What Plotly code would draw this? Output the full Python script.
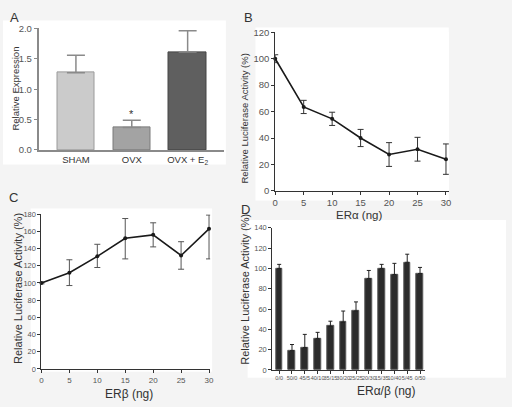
import plotly.graph_objects as go

W, H = 512, 407
FONT = "Liberation Sans, Arial, sans-serif"

# ---- data ----
a_cats = ["SHAM", "OVX", "OVX + E<sub>2</sub>"]
a_vals = [1.27, 0.37, 1.61]
a_err = [0.29, 0.12, 0.35]

b_x = [0, 5, 10, 15, 20, 25, 30]
b_vals = [100, 63.5, 54.5, 40, 27.5, 31.5, 24]
b_err = [3, 5, 5, 6.5, 9, 9, 11.5]

c_x = [0, 5, 10, 15, 20, 25, 30]
c_vals = [100, 112, 131, 152, 156, 132, 163]
c_err_plus = [1, 15, 14, 23, 14, 16, 16]
c_err_minus = [1, 15, 13, 24, 14, 16, 35]

d_cats = ["0/0", "50/0", "45/5", "40/10", "35/15", "30/20", "25/25",
          "20/30", "15/35", "10/40", "5/45", "0/50"]
d_vals = [100, 19, 22, 31, 43, 47, 58, 90, 100, 94, 106, 95]
d_err = [4, 6, 13, 6, 5, 11, 9, 8, 4, 11, 8, 6]


def dx(a, b):
    return [a / W, b / W]


def dy(top, bottom):
    return [1 - bottom / H, 1 - top / H]


fig = go.Figure()

# Panel A
fig.add_trace(go.Bar(
    x=a_cats, y=a_vals, width=0.67,
    marker=dict(color=["#cbcbcb", "#a3a3a3", "#5f5f5f"],
                line=dict(color=["#9a9a9a", "#7a7a7a", "#454545"], width=1)),
    error_y=dict(type="data", symmetric=False, array=a_err, arrayminus=[0, 0, 0],
                 color="#8a8a8a", thickness=1.5, width=9),
    xaxis="x", yaxis="y", showlegend=False))

# Panel B
fig.add_trace(go.Scatter(
    x=b_x, y=b_vals, mode="lines+markers",
    line=dict(color="#1a1a1a", width=1.6), marker=dict(size=4, color="#1a1a1a"),
    error_y=dict(type="data", array=b_err, color="#333", thickness=1, width=3),
    cliponaxis=False, xaxis="x2", yaxis="y2", showlegend=False))

# Panel C
fig.add_trace(go.Scatter(
    x=c_x, y=c_vals, mode="lines+markers",
    line=dict(color="#1a1a1a", width=1.6), marker=dict(size=4, color="#1a1a1a"),
    error_y=dict(type="data", symmetric=False, array=c_err_plus, arrayminus=c_err_minus,
                 color="#555", thickness=1, width=3),
    cliponaxis=False, xaxis="x3", yaxis="y3", showlegend=False))

# Panel D
fig.add_trace(go.Bar(
    x=d_cats, y=d_vals, width=0.53,
    marker=dict(color="#2b2b2b", line=dict(color="#5a5a5a", width=1)),
    error_y=dict(type="data", symmetric=False, array=d_err, arrayminus=[0] * len(d_err),
                 color="#222", thickness=1, width=2),
    xaxis="x4", yaxis="y4", showlegend=False))

fA = dict(family=FONT, size=9.5, color="#555")
fB = dict(family=FONT, size=9.5, color="#555")
fC = dict(family=FONT, size=8, color="#555")
fD = dict(family=FONT, size=7.5, color="#555")
base_y = dict(showgrid=False, zeroline=False, showline=True, ticks="outside",
              ticklen=3, fixedrange=True)
common_x = dict(showgrid=False, zeroline=False, showline=True, fixedrange=True)

fig.update_layout(
    width=W, height=H, autosize=False,
    margin=dict(l=0, r=0, t=0, b=0),
    paper_bgcolor="#f4f4f4", plot_bgcolor="white",
    font=dict(family=FONT, color="#333"),
    bargap=0,
    xaxis=dict(domain=dx(36, 224), range=[-0.67, 2.65], linecolor="#8a8a8a", linewidth=1.5,
               ticks="", tickfont=dict(family=FONT, size=9.5, color="#333"), anchor="y", **common_x),
    yaxis=dict(domain=dy(23, 148), range=[0, 2.0], dtick=0.5, tickformat=".1f",
               linecolor="#8a8a8a", linewidth=1.5, tickcolor="#8a8a8a", anchor="x",
               tickfont=fA, **base_y),
    xaxis2=dict(domain=dx(276, 452), range=[0, 30.5], dtick=5, ticks="outside", ticklen=3,
                linecolor="#333", tickcolor="#333", tickfont=fB, anchor="y2", **common_x),
    yaxis2=dict(domain=dy(27, 190), range=[0, 120], dtick=20, linecolor="#333",
                tickcolor="#333", anchor="x2", tickfont=fB, **base_y),
    xaxis3=dict(domain=dx(39, 210), range=[0, 30.2], dtick=5, ticks="outside", ticklen=3,
                linecolor="#333", tickcolor="#333", tickfont=fC, anchor="y3", **common_x),
    yaxis3=dict(domain=dy(214, 373), range=[0, 180], dtick=20, linecolor="#333",
                tickcolor="#333", anchor="x3", tickfont=dict(family=FONT, size=7.5, color="#555"),
                **base_y),
    xaxis4=dict(domain=dx(273, 428), range=[-0.54, 11.4], ticks="outside", ticklen=3,
                linecolor="#333", tickcolor="#333", tickfont=dict(family=FONT, size=5.5, color="#555"),
                tickangle=0, anchor="y4", **common_x),
    yaxis4=dict(domain=dy(228, 374), range=[0, 140], dtick=20, linecolor="#333",
                tickcolor="#333", anchor="x4", tickfont=fD, **base_y),
)

# white panel backgrounds
for (x0, y0, x1, y1) in [(0, 15, 226, 163), (256, 22, 452, 200),
                         (28, 208, 212, 376), (248, 220, 510, 382)]:
    fig.add_shape(type="rect", xref="paper", yref="paper", layer="below",
                  x0=x0 / W, x1=x1 / W, y0=1 - y1 / H, y1=1 - y0 / H,
                  fillcolor="white", line=dict(width=0))


def ann(text, x, y, size, rot=0, color="#333", **kw):
    fig.add_annotation(text=text, x=x / W, y=1 - y / H, xref="paper", yref="paper",
                       showarrow=False, textangle=rot, font=dict(family=FONT, size=size, color=color),
                       xanchor="center", yanchor="middle", **kw)


# panel letters
ann("A", 12, 12, 13)
ann("B", 249, 12, 13)
ann("C", 11, 197, 13)
ann("D", 246, 209, 13)

# axis titles
ann("Relative Expression", 13, 85, 9.5, -90)
ann("Relative Luciferase Activity (%)", 245, 116, 9.5, -90)
ann("ERα (ng)", 361, 215, 11.5)
ann("Relative Luciferase Activity (%)", 15, 290, 11, -90)
ann("ERβ (ng)", 128, 399, 12)
ann("Relative Luciferase Activity (%)", 245, 291, 11, -90)
ann("ERα/β (ng)", 389, 396, 12)

# significance asterisk
fig.add_annotation(text="*", x=a_cats[1], y=0.6, xref="x", yref="y", showarrow=False,
                   font=dict(family=FONT, size=11, color="#333"))

fig.write_html("out.html", config={"displayModeBar": False},
               post_script="document.body.style.margin='0';")
